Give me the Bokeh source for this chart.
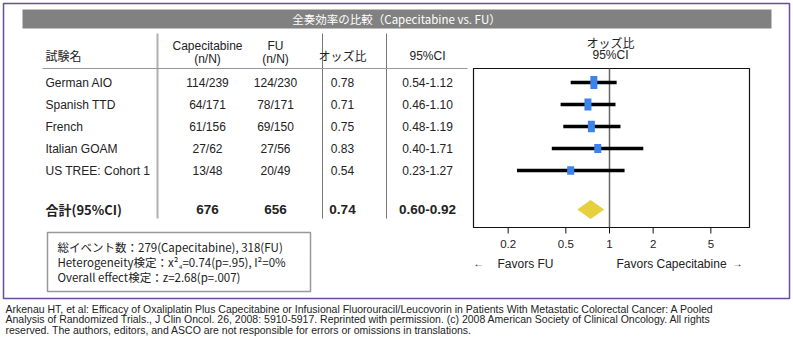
from bokeh.plotting import figure
from bokeh.models import ColumnDataSource, Range1d, LogScale
from bokeh.core.properties import value
from bokeh.embed import file_html
from bokeh.resources import INLINE

# ---------------- data ----------------
studies = ["German AIO", "Spanish TTD", "French", "Italian GOAM", "US TREE: Cohort 1"]
cap_events = [114, 64, 61, 27, 13]
cap_total = [239, 171, 156, 62, 48]
fu_events = [124, 78, 69, 27, 20]
fu_total = [230, 171, 150, 56, 49]
odds_ratio = [0.78, 0.71, 0.75, 0.83, 0.54]
ci_low = [0.54, 0.46, 0.48, 0.40, 0.23]
ci_high = [1.12, 1.10, 1.19, 1.71, 1.27]
total_cap = 676
total_fu = 656
total_or = 0.74
total_ci_low = 0.60
total_ci_high = 0.92
or_ticks = [0.2, 0.5, 1, 2, 5]

title_text = "全奏効率の比較（Capecitabine vs. FU）"
summary_lines = [
    "総イベント数：279(Capecitabine), 318(FU)",
    "Heterogeneity検定：x²₄=0.74(p=.95), I²=0%",
    "Overall effect検定：z=2.68(p=.007)",
]
footnote_lines = [
    "Arkenau HT, et al: Efficacy of Oxaliplatin Plus Capecitabine or Infusional Fluorouracil/Leucovorin in Patients With Metastatic Colorectal Cancer: A Pooled",
    "Analysis of Randomized Trials., J Clin Oncol. 26, 2008: 5910-5917. Reprinted with permission. (c) 2008 American Society of Clinical Oncology. All rights",
    "reserved. The authors, editors, and ASCO are not responsible for errors or omissions in translations.",
]

# ---------------- layout constants ----------------
W, H = 793, 350
ROW_Y0, ROW_DY, TOTAL_Y = 82, 22, 209
OR1_PX, DEC_PX = 609, 145.0  # pixel of OR=1 and pixels per decade
LAT = "Liberation Sans"
JP = "Noto Sans CJK JP"
TXT = "#222222"

p = figure(width=W, height=H, x_range=Range1d(0, W), y_range=Range1d(H, 0),
           output_backend="svg", toolbar_location=None,
           x_axis_location=None, y_axis_location=None, min_border=0)
p.grid.visible = False
p.outline_line_color = None
p.background_fill_color = "white"
p.extra_x_ranges = {"or": Range1d(10 ** ((0 - OR1_PX) / DEC_PX), 10 ** ((W - OR1_PX) / DEC_PX))}
p.extra_x_scales = {"or": LogScale()}


def txt(x, y, s, size="12px", font=LAT, align="left", color=TXT, style="normal", **kw):
    p.text(x=[x], y=[y], text=[s], text_font=value(font), text_font_size=value(size),
           text_align=align, text_baseline="middle", text_color=color,
           text_font_style=style, **kw)


# outer frame
p.quad(left=[3], right=[789], top=[3], bottom=[298], fill_color=None,
       line_color="#6a4d9c", line_width=1.5)
# title bar
p.quad(left=[22], right=[771], top=[9], bottom=[28], fill_color="#818181", line_color=None)
txt(396, 18.5, title_text, size="11.5px", font=JP, align="center", color="white")

# table grid lines
for xv, col, lw in [(157, "#b0b0b0", 2), (322, "#777777", 1), (386, "#777777", 1)]:
    p.segment(x0=[xv], y0=[33], x1=[xv], y1=[218], line_color=col, line_width=lw)
p.segment(x0=[42], y0=[68], x1=[467], y1=[68], line_color="#999999", line_width=1)

# headers
txt(45, 55, "試験名", font=JP)
txt(207, 45, "Capecitabine", align="center")
txt(207, 58, "(n/N)", align="center")
txt(275, 45, "FU", align="center")
txt(275, 58, "(n/N)", align="center")
txt(342, 55, "オッズ比", font=JP, align="center")
txt(427, 55, "95%CI", align="center")
txt(610, 42, "オッズ比", font=JP, align="center")
txt(610, 54, "95%CI", align="center")

# study rows
ys = [ROW_Y0 + ROW_DY * i for i in range(len(studies))]
src = ColumnDataSource(dict(
    y=ys, name=studies,
    cap=[f"{a}/{b}" for a, b in zip(cap_events, cap_total)],
    fu=[f"{a}/{b}" for a, b in zip(fu_events, fu_total)],
    orr=[f"{v:.2f}" for v in odds_ratio],
    ci=[f"{a:.2f}-{b:.2f}" for a, b in zip(ci_low, ci_high)],
    o=odds_ratio, lo=ci_low, hi=ci_high,
    h=[5 + 0.37 * ((a + b) ** 0.5) for a, b in zip(cap_total, fu_total)],
))
common = dict(source=src, text_font_size=value("12px"), text_baseline="middle", text_color=TXT,
              text_font=value(LAT))
p.text(x=45, y="y", text="name", text_align="left", **common)
p.text(x=207, y="y", text="cap", text_align="center", **common)
p.text(x=275, y="y", text="fu", text_align="center", **common)
p.text(x=342, y="y", text="orr", text_align="center", **common)
p.text(x=427, y="y", text="ci", text_align="center", **common)

# total row
txt(45, TOTAL_Y, "合計(95%CI)", size="13px", font=JP, style="bold")
txt(207, TOTAL_Y, f"{total_cap}", size="13.5px", align="center", style="bold")
txt(275, TOTAL_Y, f"{total_fu}", size="13.5px", align="center", style="bold")
txt(342, TOTAL_Y, f"{total_or:.2f}", size="13.5px", align="center", style="bold")
txt(427, TOTAL_Y, f"{total_ci_low:.2f}-{total_ci_high:.2f}", size="13.5px", align="center", style="bold")

# forest plot box
p.quad(left=[473], right=[749], top=[68], bottom=[227], fill_color=None,
       line_color="#111111", line_width=1.2)
p.segment(x0=[1], y0=[68], x1=[1], y1=[227], x_range_name="or",
          line_color="#666666", line_width=1.5)
p.segment(x0="lo", y0="y", x1="hi", y1="y", source=src, x_range_name="or",
          line_color="black", line_width=3.5)
p.rect(x="o", y="y", width=7, height="h", width_units="screen", height_units="screen",
       source=src, x_range_name="or", fill_color="#3b84ee", line_color=None)
p.patch(x=[total_ci_low, total_or, total_ci_high, total_or],
        y=[TOTAL_Y, TOTAL_Y - 9.5, TOTAL_Y, TOTAL_Y + 9.5],
        x_range_name="or", fill_color="#e6d03e", line_color=None)
# ticks
p.segment(x0=or_ticks, y0=[227] * len(or_ticks), x1=or_ticks, y1=[233] * len(or_ticks),
          x_range_name="or", line_color="#111111", line_width=1)
p.text(x=or_ticks, y=[243] * len(or_ticks), text=[f"{t:g}" for t in or_ticks],
       x_range_name="or", text_font=value(LAT), text_font_size=value("11.5px"),
       text_align="center", text_baseline="middle", text_color=TXT)

# favors labels
txt(478, 263, "←", size="10px", align="center")
txt(497, 263, "Favors FU")
txt(616, 263, "Favors Capecitabine")
txt(737, 263, "→", size="10px", align="center")

# summary box
p.quad(left=[47], right=[310], top=[232], bottom=[291], fill_color=None,
       line_color="#999999", line_width=1.5)
for i, s in enumerate(summary_lines):
    txt(57, 246 + 15 * i, s, font=JP, size="11.5px")

# footnote
for i, s in enumerate(footnote_lines):
    txt(5, 308 + 10.5 * i, s, size="10.5px")

open("out.html", "w").write(file_html(p, INLINE))
